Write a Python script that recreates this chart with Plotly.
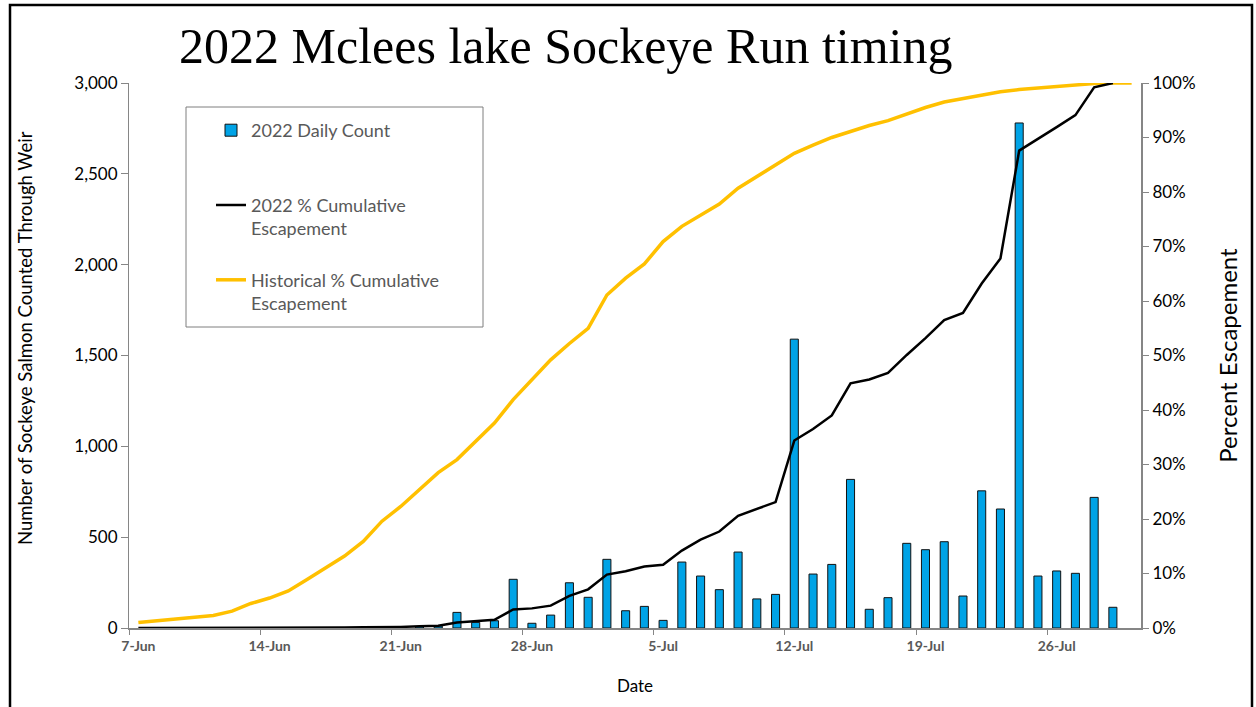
import pandas as pd
import plotly.graph_objects as go

# ---------------- data ----------------
dates = [
    "2022-06-07", "2022-06-08", "2022-06-09", "2022-06-10", "2022-06-11", "2022-06-12",
    "2022-06-13", "2022-06-14", "2022-06-15", "2022-06-16", "2022-06-17", "2022-06-18",
    "2022-06-19", "2022-06-20", "2022-06-21", "2022-06-22", "2022-06-23", "2022-06-24",
    "2022-06-25", "2022-06-26", "2022-06-27", "2022-06-28", "2022-06-29", "2022-06-30",
    "2022-07-01", "2022-07-02", "2022-07-03", "2022-07-04", "2022-07-05", "2022-07-06",
    "2022-07-07", "2022-07-08", "2022-07-09", "2022-07-10", "2022-07-11", "2022-07-12",
    "2022-07-13", "2022-07-14", "2022-07-15", "2022-07-16", "2022-07-17", "2022-07-18",
    "2022-07-19", "2022-07-20", "2022-07-21", "2022-07-22", "2022-07-23", "2022-07-24",
    "2022-07-25", "2022-07-26", "2022-07-27", "2022-07-28", "2022-07-29", "2022-07-30",
]

daily_count = [
    None, None, None, None, None, None, None,          # 7-13 Jun
    None, None, None, None, None, None, None,          # 14-20 Jun
    None, 8, 12, 86, 31, 40, 268,                      # 21-27 Jun
    26, 71, 249, 169, 378, 95, 119,                    # 28 Jun - 4 Jul
    42, 363, 286, 211, 418, 160, 185,                  # 5-11 Jul
    1590, 297, 350, 818, 103, 167, 466,                # 12-18 Jul
    431, 475, 176, 755, 655, 2780, 286,                # 19-25 Jul
    314, 301, 719, 114, None,                          # 26-30 Jul
]

pct_2022 = [
    0, 0, 0, 0, 0, 0, 0,
    0.1, 0.1, 0.1, 0.1, 0.1, 0.15, 0.15,
    0.2, 0.3, 0.4, 1.0, 1.2, 1.5, 3.4,
    3.6, 4.1, 5.9, 7.1, 9.8, 10.4, 11.3,
    11.6, 14.2, 16.2, 17.7, 20.6, 21.8, 23.1,
    34.4, 36.5, 39.0, 44.9, 45.6, 46.8, 50.1,
    53.2, 56.5, 57.8, 63.2, 67.8, 87.6, 89.7,
    91.9, 94.1, 99.2, 100,
]

pct_hist = [
    1.0, 1.3, 1.6, 1.9, 2.3, 3.1, 4.5,
    5.5, 6.8, 8.9, 11.1, 13.2, 15.9, 19.6,
    22.3, 25.4, 28.5, 30.9, 34.3, 37.6, 41.9,
    45.6, 49.2, 52.2, 55.0, 61.1, 64.2, 66.8,
    70.9, 73.7, 75.7, 77.8, 80.7, 82.8, 85.0,
    87.1, 88.6, 90.0, 91.1, 92.2, 93.1, 94.3,
    95.5, 96.5, 97.1, 97.8, 98.4, 98.8, 99.1,
    99.4, 99.6, 99.9, 100, 100,
]

tick_dates = ["2022-06-07", "2022-06-14", "2022-06-21", "2022-06-28",
              "2022-07-05", "2022-07-12", "2022-07-19", "2022-07-26"]
tick_labels = ["7-Jun", "14-Jun", "21-Jun", "28-Jun", "5-Jul", "12-Jul", "19-Jul", "26-Jul"]

# ---------------- figure ----------------
half_day = pd.Timedelta(hours=12)
x_range = [(pd.Timestamp(dates[0]) - half_day).strftime("%Y-%m-%d %H:%M"),
           (pd.Timestamp(dates[-1]) + half_day).strftime("%Y-%m-%d %H:%M")]
tick_bounds = [(pd.Timestamp(d) - half_day).strftime("%Y-%m-%d %H:%M") for d in tick_dates]

FONT = "Lato"
AXIS_GRAY = "#868686"

fig = go.Figure()
fig.add_trace(go.Bar(
    x=dates, y=daily_count, name="2022 Daily Count<br> ",
    marker=dict(color="#00A3E6", line=dict(color="#111111", width=1)),
    xaxis="x", yaxis="y", legendgroup="a", legendrank=1,
))
fig.add_trace(go.Scatter(
    x=dates, y=pct_hist, mode="lines", name="Historical % Cumulative<br>Escapement",
    line=dict(color="#FFC000", width=3.5),
    xaxis="x2", yaxis="y2", legendgroup="c", legendrank=3,
))
fig.add_trace(go.Scatter(
    x=dates[:len(pct_2022)], y=pct_2022, mode="lines", name="2022 % Cumulative<br>Escapement",
    line=dict(color="#000000", width=2.5),
    xaxis="x2", yaxis="y2", legendgroup="b", legendrank=2,
))

W, H = 1256, 707
L, R, T, B = 129, 115, 83, 79
pw, ph = W - L - R, H - T - B


def px_x(x):
    return (x - L) / pw


def px_y(y):
    return (H - B - y) / ph


fig.update_layout(
    width=W, height=H,
    margin=dict(l=L, r=R, t=T, b=B, autoexpand=False),
    paper_bgcolor="white", plot_bgcolor="white",
    bargap=0.57,
    showlegend=True,
    legend=dict(
        x=px_x(211), y=px_y(112), xanchor="left", yanchor="top",
        xref="paper", yref="paper",
        bgcolor="rgba(0,0,0,0)", borderwidth=0,
        font=dict(family=FONT, size=18, color="#595959"),
        traceorder="grouped", tracegroupgap=25, valign="top",
    ),
    xaxis=dict(
        type="date", range=x_range, tickvals=tick_dates, ticktext=tick_labels,
        ticks="outside", ticklen=4, tickcolor="rgba(0,0,0,0)",
        showline=True, linecolor=AXIS_GRAY, linewidth=1.5, showgrid=False, zeroline=False,
        tickfont=dict(family=FONT, size=14, color="#595959", weight="bold"),
        title=dict(text="Date", font=dict(family=FONT, size=17, color="#000000"), standoff=28),
    ),
    xaxis2=dict(
        type="date", range=x_range, overlaying="x", anchor="y2", side="bottom",
        tickvals=tick_bounds, ticks="outside", ticklen=6, tickcolor=AXIS_GRAY,
        showticklabels=False, showgrid=False, showline=False, zeroline=False,
    ),
    yaxis=dict(
        range=[0, 3000], dtick=500, tickformat=",d",
        ticks="outside", ticklen=7, tickcolor=AXIS_GRAY,
        showline=True, linecolor=AXIS_GRAY, linewidth=1, showgrid=False, zeroline=False,
        tickfont=dict(family=FONT, size=17, color="#000000"),
    ),
    yaxis2=dict(
        range=[0, 100], dtick=10, ticksuffix="%", overlaying="y", side="right", anchor="x2",
        ticks="outside", ticklen=6, tickcolor=AXIS_GRAY,
        showline=True, linecolor=AXIS_GRAY, linewidth=2, showgrid=False, zeroline=False,
        tickfont=dict(family=FONT, size=17, color="#000000"),
        title=dict(text="Percent Escapement", font=dict(family=FONT, size=24, color="#000000"),
                   standoff=26),
    ),
    annotations=[
        dict(
            text="2022 Mclees lake Sockeye Run timing", xref="paper", yref="paper",
            x=px_x(565), y=px_y(46), xanchor="center", yanchor="middle", showarrow=False,
            font=dict(family="Liberation Serif", size=50, color="#000000"),
        ),
        dict(
            text="Number of Sockeye Salmon Counted Through Weir", xref="paper", yref="paper",
            x=px_x(25), y=px_y(338), xanchor="center", yanchor="middle", showarrow=False,
            textangle=-90, font=dict(family=FONT, size=18.5, color="#000000"),
        ),
    ],
    shapes=[
        dict(type="rect", xref="paper", yref="paper",
             x0=px_x(186), x1=px_x(483), y0=px_y(327), y1=px_y(107),
             line=dict(color="#7F7F7F", width=1), fillcolor="rgba(0,0,0,0)", layer="above"),
        dict(type="rect", xref="paper", yref="paper",
             x0=px_x(10), x1=px_x(1252), y0=px_y(730), y1=px_y(5),
             line=dict(color="#000000", width=2.5), fillcolor="rgba(0,0,0,0)", layer="above"),
    ],
)

fig.write_html("out.html", config={"displayModeBar": False},
               post_script="document.body.style.margin='0';")
